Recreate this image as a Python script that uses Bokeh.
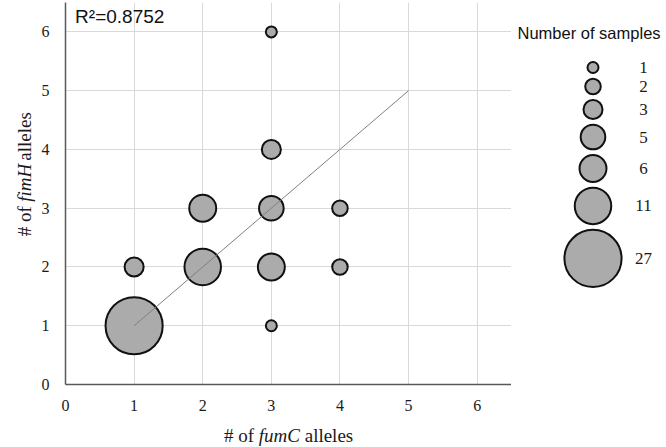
import math
from bokeh.plotting import figure
from bokeh.models import Range1d, FixedTicker, Label, ColumnDataSource
from bokeh.layouts import row, column
from bokeh.core.properties import value
from bokeh.embed import file_html
from bokeh.resources import INLINE

# ---- data ----
fumc_alleles = [1, 1, 2, 2, 3, 3, 3, 3, 3, 4, 4]
fimh_alleles = [1, 2, 2, 3, 1, 2, 3, 4, 6, 2, 3]
n_samples = [27, 3, 11, 6, 1, 6, 5, 3, 1, 2, 2]
trend_x = [1, 5]
trend_y = [1, 5]
legend_counts = [1, 2, 3, 5, 6, 11, 27]
ticks = [0, 1, 2, 3, 4, 5, 6]
r2_text = "R\u00b2=0.8752"

SCALE = 11.0  # px diameter for one sample
FILL = "#ababab"
EDGE = "#111111"
SERIF = "Liberation Serif"
SANS = "Liberation Sans"
TXT = "#1a1a1a"

def diam(n):
    return SCALE * math.sqrt(n)

def blank(w, h, xr, yr):
    f = figure(width=w, height=h, output_backend="svg", toolbar_location=None,
               x_range=xr, y_range=yr, x_axis_location=None, y_axis_location=None,
               min_border=0)
    f.grid.visible = False
    f.outline_line_color = None
    f.background_fill_color = "white"
    f.border_fill_color = "white"
    return f

# ---- main plot ----
p = figure(width=473, height=420, output_backend="svg", toolbar_location=None,
           x_range=Range1d(0, 6.5), y_range=Range1d(0, 6.5),
           min_border_left=26, min_border_right=0, min_border_top=2, min_border_bottom=36)
p.outline_line_color = None
p.background_fill_color = "white"
p.border_fill_color = "white"

for ax in (p.xaxis, p.yaxis):
    ax.ticker = FixedTicker(ticks=ticks)
    ax.major_tick_out = 0
    ax.major_tick_in = 0
    ax.minor_tick_out = 0
    ax.minor_tick_in = 0
    ax.axis_line_color = "#595959"
    ax.axis_line_width = 1.5
    ax.major_label_text_font = SERIF
    ax.major_label_text_font_size = "16px"
    ax.major_label_text_color = TXT
p.xaxis.major_label_standoff = 15
p.yaxis.major_label_standoff = 16

p.xgrid.ticker = FixedTicker(ticks=ticks)
p.ygrid.ticker = FixedTicker(ticks=ticks)
p.grid.grid_line_color = "#d9d9d9"
p.grid.grid_line_width = 1

src = ColumnDataSource(dict(x=fumc_alleles, y=fimh_alleles, n=n_samples,
                            s=[diam(n) for n in n_samples]))
p.scatter("x", "y", size="s", source=src, marker="circle",
          fill_color=FILL, line_color=EDGE, line_width=2)
p.line(trend_x, trend_y, line_color="#808080", line_width=1)

p.add_layout(Label(x=0.14, y=6.27, text=r2_text, text_font=SANS,
                   text_font_size="19px", text_baseline="middle", text_color="#111111"))

# ---- y axis title panel (y measured upward from panel bottom) ----
H_TOP = 420
yt = blank(38, H_TOP, Range1d(0, 38), Range1d(0, H_TOP))
for txt, page_y, style in [("# of", 257.0, "normal"), ("fimH", 219.0, "italic"), ("alleles", 174.0, "normal")]:
    yt.add_layout(Label(x=23.5, y=H_TOP - page_y, text=txt, text_font=SERIF, text_font_size="19px",
                        text_font_style=style, text_baseline="alphabetic", text_align="left",
                        angle=math.pi / 2, text_color=TXT))

# ---- x axis title panel ----
xt = blank(511, 27, Range1d(0, 511), Range1d(447, 420))
for txt, xx, style in [("# of", 223.4, "normal"), ("fumC", 258.2, "italic"), ("alleles", 304.2, "normal")]:
    xt.add_layout(Label(x=xx, y=435, text=txt, text_font=SERIF, text_font_size="19px",
                        text_font_style=style, text_baseline="middle", text_align="left",
                        text_color=TXT))

# ---- legend panel ----
leg = blank(155, 447, Range1d(511, 666), Range1d(447, 0))
diams = [diam(n) for n in legend_counts]
centers = []
c = 67.0
for i, d in enumerate(diams):
    if i > 0:
        c += diams[i - 1] / 2 + 5.7 + d / 2
    centers.append(c)
lsrc = ColumnDataSource(dict(x=[592.5] * len(legend_counts), y=centers, s=diams,
                             lx=[643] * len(legend_counts),
                             t=[str(n) for n in legend_counts]))
leg.scatter("x", "y", size="s", source=lsrc, marker="circle",
            fill_color=FILL, line_color=EDGE, line_width=2)
leg.text("lx", "y", text="t", source=lsrc, text_font=value(SERIF), text_font_size="17px",
         text_align="center", text_baseline="middle", text_color=TXT)
leg.add_layout(Label(x=517, y=32, text="Number of samples", text_font=SANS,
                     text_font_size="16.5px", text_baseline="middle", text_align="left",
                     text_color="#111111"))

layout = row(column(row(yt, p), xt), leg)
open("out.html", "w").write(file_html(layout, INLINE))
